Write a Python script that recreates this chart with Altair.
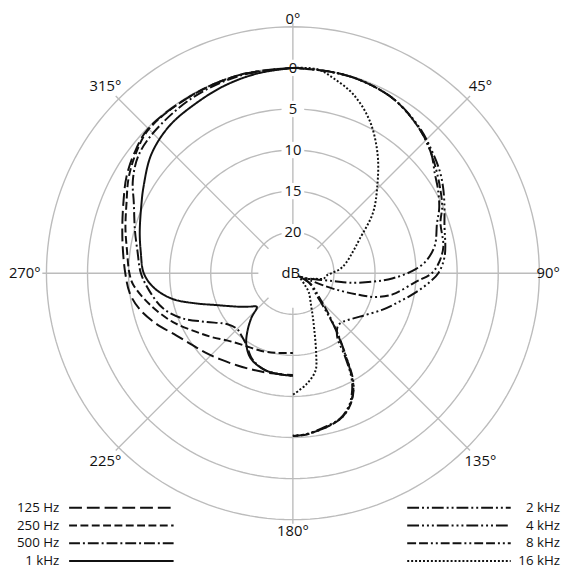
import math
import altair as alt
import pandas as pd

# ---------------- data (angle in degrees clockwise from 0°, level in dB) -------------
SERIES = ["125 Hz", "250 Hz", "500 Hz", "1 kHz", "2 kHz", "4 kHz", "8 kHz", "16 kHz"]

ANG_125 = [0, -15, -30, -45, -53, -60, -67, -75, -82, -90, -97, -103, -110, -118, -125, -132, -140, -149, -158, -166, -180]
DB_125 = [0, 0, -0.1, -0.1, -0.8, -1.6, -2.6, -3.5, -4.1, -4.6, -5.0, -5.8, -7.2, -8.9, -9.9, -10.6, -11.3, -11.9, -12.3, -12.5, -12.6]

ANG_250 = [0, -15, -30, -45, -53, -60, -67, -75, -82, -90, -94, -102, -112, -121, -128, -136, -146, -158, -168, -180]
DB_250 = [0, 0, -0.1, -0.2, -1.0, -1.9, -3.0, -3.9, -4.6, -5.1, -5.5, -7.1, -9.2, -11.2, -12.4, -13.6, -14.4, -14.8, -15.1, -15.3]

ANG_500 = [0, -15, -30, -45, -53, -60, -66, -75, -82, -90, -97, -105, -112, -119, -128, -135, -140, -147, -155, -165, -180]
DB_500 = [0, -0.1, -0.4, -0.9, -1.4, -2.5, -3.8, -5.1, -5.9, -6.5, -7.4, -8.6, -10.4, -12.8, -14.9, -15.4, -15.2, -14.6, -13.4, -12.7, -12.5]

ANG_1K = [0, -10, -20, -30, -40, -50, -60, -66, -75, -82, -90, -96, -102, -107, -112, -117, -123, -128, -133, -137, -142, -147, -154, -165, -180]
DB_1K = [0, -0.3, -0.7, -1.2, -1.6, -2.5, -4.0, -4.8, -5.7, -6.3, -6.85, -8.0, -10.0, -12.5, -14.7, -16.2, -17.5, -18.4, -19.0, -17.6, -16.0, -14.6, -13.4, -12.7, -12.5]

ANG_2K = [0, 10, 19, 30, 41, 49, 55, 60, 66, 71, 79, 85, 89, 93, 96, 99.5, 101, 108, 117.5, 119.5, 133, 139, 143, 147, 150, 152, 156, 161, 168, 176, 180]
DB_2K = [0, -0.05, -0.1, -0.5, -1.6, -2.7, -3.9, -4.6, -5.5, -6.45, -7.4, -8.8, -10.5, -12.9, -15.2, -18.0, -20.0, -22.8, -24.0, -22.8, -21.0, -18.8, -16.1, -13.3, -10.8, -9.3, -7.7, -6.5, -5.9, -5.3, -5.2]

ANG_4K = [0, 10, 19, 30, 41, 49, 55, 60, 66, 72, 83.5, 90, 94, 99, 105, 112, 123, 134, 139, 145, 148, 150.5, 153, 157, 162, 168, 176, 180]
DB_4K = [0, -0.05, -0.1, -0.5, -1.5, -2.5, -3.2, -3.9, -4.8, -5.6, -6.4, -7.3, -8.4, -9.9, -11.6, -13.2, -15.3, -16.5, -16.6, -15.6, -13.0, -10.6, -9.1, -7.5, -6.4, -5.8, -5.3, -5.3]

ANG_8K = [0, 10, 19, 30, 41, 49, 55, 60, 66, 71, 80, 86, 90, 94, 102, 106, 108, 111, 112.5, 117, 121, 133, 139, 144, 147.5, 150, 152.5, 156.5, 161.5, 168, 176, 180]
DB_8K = [0, -0.05, -0.1, -0.5, -1.6, -2.7, -3.6, -4.3, -5.1, -6.0, -6.4, -7.2, -8.1, -10.0, -12.6, -14.5, -16.4, -19.7, -22.7, -24.2, -22.5, -20.5, -18.3, -15.6, -13.0, -10.5, -9.0, -7.5, -6.4, -5.8, -5.25, -5.2]

ANG_16K = [0, 7, 12, 18.6, 26.7, 35.4, 44, 53, 63, 70, 78.5, 85, 94, 100, 104, 112, 117.5, 134, 140, 151, 157, 164, 167, 173, 180]
DB_16K = [0, 0, -0.8, -2.0, -4.2, -7.2, -10.2, -12.8, -15.9, -17.2, -18.35, -19.25, -20.9, -21.2, -22.2, -23.15, -24.0, -23.0, -22.0, -20.4, -18.6, -14.7, -12.8, -11.4, -10.2]

ANGLES = [ANG_125, ANG_250, ANG_500, ANG_1K, ANG_2K, ANG_4K, ANG_8K, ANG_16K]
LEVELS = [DB_125, DB_250, DB_500, DB_1K, DB_2K, DB_4K, DB_8K, DB_16K]

RING_LEVELS = [-20, -15, -10, -5, 0, 5]
RING_LABELS = ["20", "15", "10", "5", "0"]
RING_LABEL_LEVELS = [-20, -15, -10, -5, 0]
SPOKE_ANGLES = [0, 45, 90, 135, 180, 225, 270, 315]
ANGLE_LABELS = ["0°", "45°", "90°", "135°", "180°", "225°", "270°", "315°"]

# ---------------- layout ----------------
W, H = 553, 562
CX, CY = 281, 263          # pole position in chart pixels
PX = 250 / 30              # pixels per dB
FLOOR = 25                 # dB at the pole
XMIN, XMAX = -CX / PX, (W - CX) / PX
YMIN, YMAX = -(H - CY) / PX, CY / PX

def px2x(p):
    return (p - CX) / PX

def px2y(p):
    return (CY - p) / PX

xs = alt.Scale(domain=[XMIN, XMAX], nice=False, zero=False)
ys = alt.Scale(domain=[YMIN, YMAX], nice=False, zero=False)
X = alt.X("x:Q", scale=xs, axis=None)
Y = alt.Y("y:Q", scale=ys, axis=None)

GRID = "#bcbcbc"
INK = "#111111"
FONT = "Open Sans"

DASHES = [[13, 5], [8, 3.5], [11, 3, 2, 3], [1, 0],
          [12, 3, 2, 3, 2, 3], [12, 3, 2, 3, 2, 3, 2, 3],
          [9, 3, 9, 3, 2, 3, 2, 3], [2, 2]]
dash_scale = alt.Scale(domain=SERIES, range=DASHES)

# ---------------- grid rings ----------------
ring_rows = [{"ring": r, "a": a} for r in RING_LEVELS for a in range(0, 361, 2)]
rings = alt.Chart(pd.DataFrame(ring_rows)).transform_calculate(
    v=f"datum.ring + {FLOOR}"
).transform_calculate(
    x="datum.v * sin(datum.a * PI / 180)",
    y="datum.v * cos(datum.a * PI / 180)",
).mark_line(color=GRID, strokeWidth=1.4).encode(
    x=X, y=Y, detail="ring:N", order="a:Q"
)

# ---------------- spokes ----------------
spokes = alt.Chart(pd.DataFrame({"a": SPOKE_ANGLES})).transform_calculate(
    x="4.2 * sin(datum.a * PI / 180)",
    y="4.2 * cos(datum.a * PI / 180)",
    x2="30.5 * sin(datum.a * PI / 180)",
    y2="30.5 * cos(datum.a * PI / 180)",
).mark_rule(color=GRID, strokeWidth=1.4).encode(
    x=X, y=Y, x2="x2:Q", y2="y2:Q"
)

# ---------------- knockouts behind ring labels ----------------
lab_df = pd.DataFrame({"t": RING_LABELS, "lvl": RING_LABEL_LEVELS})
knock = alt.Chart(lab_df).transform_calculate(
    x="0", y=f"datum.lvl + {FLOOR}"
).mark_point(shape="M-1,-0.72H1V0.72H-1Z", filled=True, color="white",
             opacity=1, size=529, strokeWidth=0).encode(x=X, y=Y)

ring_text = alt.Chart(lab_df).transform_calculate(
    x="0", y=f"datum.lvl + {FLOOR}"
).mark_text(font=FONT, fontSize=15, color=INK, align="center",
            baseline="middle").encode(x=X, y=Y, text="t:N")

db_text = alt.Chart(pd.DataFrame({"t": ["dB"]})).transform_calculate(
    x="-0.25", y="0"
).mark_text(font=FONT, fontSize=15, color=INK, align="center",
            baseline="middle").encode(x=X, y=Y, text="t:N")

# ---------------- curves ----------------
rows = []
for name, angs, lv in zip(SERIES, ANGLES, LEVELS):
    for i, (a, d) in enumerate(zip(angs, lv)):
        rows.append({"series": name, "i": i, "angle": a, "level": d})
curves = alt.Chart(pd.DataFrame(rows)).transform_calculate(
    v=f"datum.level + {FLOOR}"
).transform_calculate(
    x="datum.v * sin(datum.angle * PI / 180)",
    y="datum.v * cos(datum.angle * PI / 180)",
).mark_line(color=INK, strokeWidth=2, interpolate="catmull-rom",
            strokeCap="butt").encode(
    x=X, y=Y, order="i:Q", detail="series:N",
    strokeDash=alt.StrokeDash("series:N", scale=dash_scale, legend=None),
)

# ---------------- angle labels ----------------
LABEL_RADIUS = {0: 258, 45: 269, 90: 259, 135: 269, 180: 262, 225: 269, 270: 272, 315: 269}
ang_df = pd.DataFrame({
    "t": ANGLE_LABELS,
    "x": [LABEL_RADIUS[a] / PX * math.sin(math.radians(a)) for a in SPOKE_ANGLES],
    "y": [LABEL_RADIUS[a] / PX * math.cos(math.radians(a)) for a in SPOKE_ANGLES],
})
ang_text = alt.Chart(ang_df).mark_text(
    font=FONT, fontSize=15, color=INK, align="center", baseline="middle"
).encode(x=X, y=Y, text="t:N")

# ---------------- legend ----------------
ROW_Y = [501, 519, 537, 555]
leg_lines = []
leg_text = []
for k, name in enumerate(SERIES):
    col, row = divmod(k, 4)
    yy = px2y(ROW_Y[row])
    if col == 0:
        x0, x1, tx = 54, 160, 44
    else:
        x0, x1, tx = 397, 502, 552
    leg_lines.append({"series": name, "i": 0, "x": px2x(x0), "y": yy})
    leg_lines.append({"series": name, "i": 1, "x": px2x(x1), "y": yy})
    leg_text.append({"series": name, "x": px2x(tx), "y": yy})

legend_lines = alt.Chart(pd.DataFrame(leg_lines)).mark_line(
    color=INK, strokeWidth=2, strokeCap="butt"
).encode(
    x=X, y=Y, order="i:Q", detail="series:N",
    strokeDash=alt.StrokeDash("series:N", scale=dash_scale, legend=None),
)
legend_text = alt.Chart(pd.DataFrame(leg_text)).mark_text(
    font=FONT, fontSize=13.5, color=INK, align="right", baseline="middle"
).encode(x=X, y=Y, text="series:N")

chart = alt.layer(
    rings, spokes, knock, curves, ring_text, db_text, ang_text,
    legend_lines, legend_text
).properties(
    width=W, height=H, padding=0, background="white"
).configure_view(stroke=None)

chart.save("out.html", embed_options={"renderer": "svg", "actions": False})
